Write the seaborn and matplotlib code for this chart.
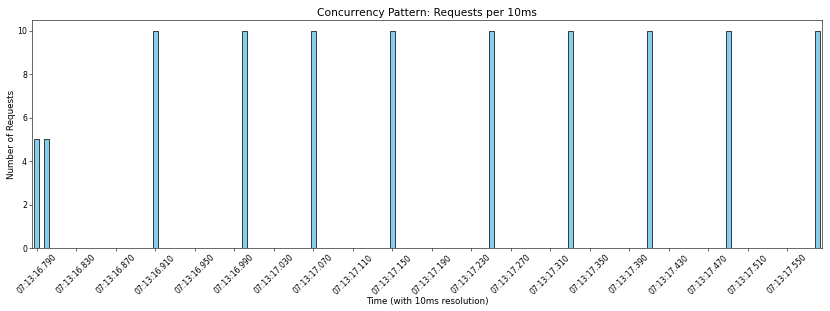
import matplotlib
matplotlib.use("Agg")
import matplotlib.pyplot as plt
import seaborn as sns
import pandas as pd

# Time bins (10 ms resolution) from 07:13:16.790 to 07:13:17.580
bin_start_ms = 16790
n_bins = 80
time_labels = [
    "07:13:{:02d}.{:03d}".format((bin_start_ms + 10 * i) // 1000, (bin_start_ms + 10 * i) % 1000)
    for i in range(n_bins)
]

# Non-zero request counts
active_times = ["07:13:16.790", "07:13:16.800", "07:13:16.910", "07:13:17.000",
                "07:13:17.070", "07:13:17.150", "07:13:17.250", "07:13:17.330",
                "07:13:17.410", "07:13:17.490", "07:13:17.580"]
active_counts = [5, 5, 10, 10, 10, 10, 10, 10, 10, 10, 10]

count_map = dict(zip(active_times, active_counts))
counts = [count_map.get(t, 0) for t in time_labels]
df = pd.DataFrame({"time": time_labels, "count": counts})

W, H, DPI = 830, 311, 51.875
fig, ax = plt.subplots(figsize=(W / DPI, H / DPI), dpi=DPI)
fig.subplots_adjust(left=32 / W, right=822 / W, top=1 - 20 / H, bottom=1 - 248 / H)

sns.barplot(data=df, x="time", y="count", color="skyblue", edgecolor="black",
            linewidth=1, width=0.5, saturation=1, ax=ax)

tick_pos = list(range(0, n_bins, 4))
ax.set_xticks(tick_pos)
ax.set_xticklabels([time_labels[i] for i in tick_pos], rotation=45, fontsize=10.8)
ax.tick_params(axis="y", labelsize=10.8)

ax.set_title("Concurrency Pattern: Requests per 10ms", fontsize=14.7)
ax.set_xlabel("Time (with 10ms resolution)", fontsize=12.2, labelpad=1)
ax.set_ylabel("Number of Requests", fontsize=12.2, labelpad=1)

fig.savefig("out.png", dpi=DPI)
